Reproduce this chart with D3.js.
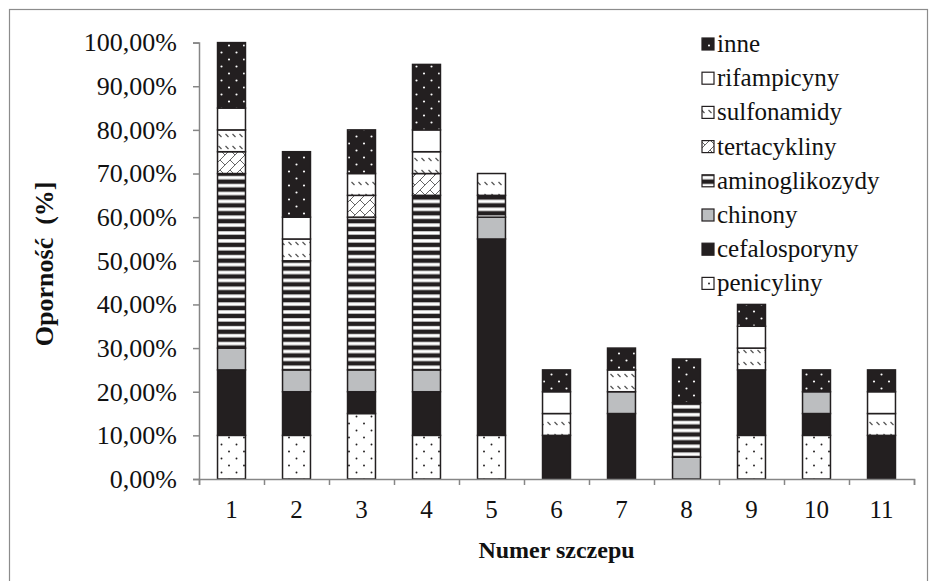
<!DOCTYPE html>
<html><head><meta charset="utf-8">
<script src="https://cdn.jsdelivr.net/npm/d3@7"></script>
<style>
html,body{margin:0;padding:0;background:#fff;}
</style></head>
<body>
<svg id="chart" width="937" height="581"></svg>
<script>
const categories = ["1","2","3","4","5","6","7","8","9","10","11"];
const penicyliny     = [10,10,15,10,10, 0, 0, 0,10,10, 0];
const cefalosporyny  = [15,10, 5,10,45,10,15, 0,15, 5,10];
const chinony        = [ 5, 5, 5, 5, 5, 0, 5, 5, 0, 5, 0];
const aminoglikozydy = [40,25,35,40, 5, 0, 0,12.5,0, 0, 0];
const tertacykliny   = [ 5, 0, 5, 5, 0, 0, 0, 0, 0, 0, 0];
const sulfonamidy    = [ 5, 5, 5, 5, 5, 5, 5, 0, 5, 0, 5];
const rifampicyny    = [ 5, 5, 0, 5, 0, 5, 0, 0, 5, 0, 5];
const inne           = [15,15,10,15, 0, 5, 5,10, 5, 5, 5];
const seriesNames = ["penicyliny","cefalosporyny","chinony","aminoglikozydy","tertacykliny","sulfonamidy","rifampicyny","inne"];
const seriesValues = [penicyliny,cefalosporyny,chinony,aminoglikozydy,tertacykliny,sulfonamidy,rifampicyny,inne];
const yTicks = [0,10,20,30,40,50,60,70,80,90,100];
const yTitle = "Oporność  (%]";
const xTitle = "Numer szczepu";

const FONT = "Liberation Serif";
const svg = d3.select("#chart");
const W = 937, H = 581;
const m = {left:199, right:23, top:42.6, bottom:102};
const x0 = m.left, x1 = W - m.right, yTop = m.top, yBot = H - m.bottom;

svg.append("rect").attr("x",9.5).attr("y",9.5).attr("width",918).attr("height",580)
  .attr("fill","none").attr("stroke","#8c8c8c").attr("stroke-width",1.2);

const defs = svg.append("defs");
const INK = "#231f20";
function pat(id,w,h){ return defs.append("pattern").attr("id",id).attr("patternUnits","userSpaceOnUse").attr("width",w).attr("height",h); }
let p = pat("p-pen",15,14);
p.append("rect").attr("width",15).attr("height",14).attr("fill","#fff");
p.append("circle").attr("cx",4).attr("cy",3.5).attr("r",0.95).attr("fill",INK);
p.append("circle").attr("cx",11.5).attr("cy",10.5).attr("r",0.95).attr("fill",INK);
p = pat("p-inne",15,14);
p.append("rect").attr("width",15).attr("height",14).attr("fill",INK);
p.append("circle").attr("cx",4).attr("cy",3.5).attr("r",1.05).attr("fill","#fff");
p.append("circle").attr("cx",11.5).attr("cy",10.5).attr("r",1.05).attr("fill","#fff");
p = pat("p-amino",10,7.9);
p.append("rect").attr("width",10).attr("height",7.9).attr("fill",INK);
p.append("rect").attr("y",2.2).attr("width",10).attr("height",3.4).attr("fill","#fff");
p = pat("p-tert",10,10);
p.append("rect").attr("width",10).attr("height",10).attr("fill","#fff");
p.append("path").attr("d","M-1,11 L11,-1 M0,0 L5,5").attr("stroke","#555").attr("stroke-width",0.9).attr("fill","none");
p = pat("p-sulf",7,12);
p.append("rect").attr("width",7).attr("height",12).attr("fill","#fff");
p.append("path").attr("d","M1.5,2 L4.5,5").attr("stroke","#555").attr("stroke-width",1.3).attr("fill","none");

const fills = {
  penicyliny:"url(#p-pen)", cefalosporyny:INK, chinony:"#bcbec0",
  aminoglikozydy:"url(#p-amino)", tertacykliny:"url(#p-tert)",
  sulfonamidy:"url(#p-sulf)", rifampicyny:"#fff", inne:"url(#p-inne)"
};

const rows = categories.map((c,i)=>{ const r={cat:c}; seriesNames.forEach((s,k)=>r[s]=seriesValues[k][i]); return r; });
const stack = d3.stack().keys(seriesNames)(rows);

const x = d3.scaleBand().domain(categories).range([x0,x1]).paddingInner(0.57).paddingOuter(0.285);
const xb = d3.scaleLinear().domain([0,categories.length]).range([x0,x1]);
const y = d3.scaleLinear().domain([0,100]).range([yBot,yTop]);

stack.forEach(layer=>{
  svg.append("g").selectAll("rect").data(layer.filter(d=>d[1]-d[0]>0)).join("rect")
    .attr("x",d=>x(d.data.cat)).attr("width",x.bandwidth())
    .attr("y",d=>y(d[1])).attr("height",d=>y(d[0])-y(d[1]))
    .attr("fill",fills[layer.key]).attr("stroke",INK).attr("stroke-width",1.5);
});

const gy = svg.append("g").attr("transform",`translate(${x0},0)`)
  .call(d3.axisLeft(y).tickValues(yTicks).tickSize(6).tickPadding(16)
    .tickFormat(v=>v.toFixed(2).replace(".",",")+"%"));
gy.attr("font-family",FONT);
gy.select(".domain").attr("stroke","#868686").attr("stroke-width",1.5);
gy.selectAll(".tick line").attr("stroke","#868686").attr("stroke-width",1.5);
gy.selectAll(".tick text").attr("font-size",26).attr("fill","#111");

const gx = svg.append("g").attr("transform",`translate(0,${yBot})`)
  .call(d3.axisBottom(xb).tickValues(d3.range(0,categories.length+1)).tickSize(6).tickFormat(""));
gx.select(".domain").attr("stroke","#868686").attr("stroke-width",1.5);
gx.selectAll(".tick line").attr("stroke","#868686").attr("stroke-width",1.5);
const gxl = svg.append("g").attr("transform",`translate(0,${yBot})`)
  .call(d3.axisBottom(x).tickSize(0).tickPadding(21));
gxl.attr("font-family",FONT);
gxl.select(".domain").remove();
gxl.selectAll(".tick text").attr("font-size",25).attr("fill","#111");

svg.append("text").attr("x",(x0+x1)/2).attr("y",558).attr("text-anchor","middle").attr("font-family",FONT)
  .attr("font-size",24).attr("font-weight","bold").attr("fill","#111").text(xTitle);
svg.append("text").attr("transform",`translate(53,${(yTop+yBot)/2+3}) rotate(-90)`).attr("text-anchor","middle").attr("font-family",FONT)
  .attr("font-size",26).attr("font-weight","bold").attr("fill","#111").style("white-space","pre").text(yTitle);

const legOrder = seriesNames.slice().reverse();
const lg = svg.append("g").attr("font-family",FONT);
legOrder.forEach((s,i)=>{
  const cy = 44 + i*34.2;
  lg.append("rect").attr("x",702).attr("y",cy-6).attr("width",12).attr("height",12)
    .attr("fill",fills[s]).attr("stroke",INK).attr("stroke-width",1.2);
  lg.append("text").attr("x",717).attr("y",cy+8).attr("font-size",25).attr("fill","#111").text(s);
});
</script>
</body></html>
